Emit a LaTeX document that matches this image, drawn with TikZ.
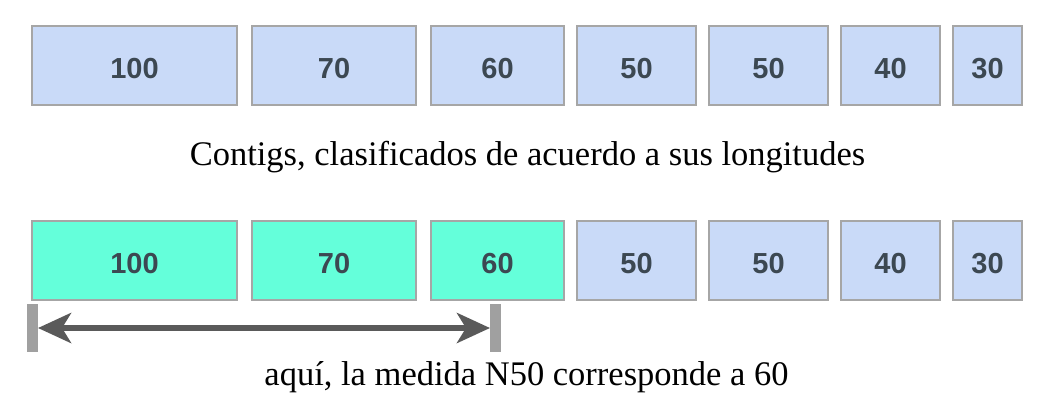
\documentclass[tikz,border=0pt]{standalone}
\usepackage{fontspec}
\setmainfont{Liberation Serif}
\newfontfamily\numfont{Liberation Sans}
\usetikzlibrary{arrows.meta}
\definecolor{boxblue}{HTML}{C9DAF8}
\definecolor{boxgreen}{HTML}{64FFDA}
\definecolor{boxline}{HTML}{A6A6A6}
\definecolor{numtext}{HTML}{3C4852}
\definecolor{arrowgray}{HTML}{5A5A5A}
\definecolor{bargray}{HTML}{A0A0A0}
\tikzset{
  contig/.style={draw=boxline, line width=1.5pt, inner sep=0pt, outer sep=0pt,
    font=\numfont\bfseries\fontsize{29}{34}\selectfont, text=numtext, text height=25pt, text depth=0pt},
  bluebox/.style={contig, fill=boxblue},
  greenbox/.style={contig, fill=boxgreen},
  caption/.style={inner sep=0pt, anchor=base, font=\fontsize{34.5}{40}\selectfont, text=black},
  endbar/.style={fill=bargray, draw=none, inner sep=0pt, outer sep=0pt, minimum width=11pt, minimum height=48pt},
  measure/.style={draw=arrowgray, line width=6pt, {Stealth[length=33pt,width=30pt,inset=9pt]}-{Stealth[length=33pt,width=30pt,inset=9pt]}}
}
\begin{document}
\begin{tikzpicture}[x=1pt,y=-1pt]
\useasboundingbox (0,0) rectangle (1064,413);
% top row
\node[bluebox, minimum width=205pt, minimum height=79pt] (t1) at (134.5,65.5) {100};
\node[bluebox, minimum width=164pt, minimum height=79pt] (t2) at (334,65.5) {70};
\node[bluebox, minimum width=133pt, minimum height=79pt] (t3) at (497.5,65.5) {60};
\node[bluebox, minimum width=119pt, minimum height=79pt] (t4) at (636.5,65.5) {50};
\node[bluebox, minimum width=119pt, minimum height=79pt] (t5) at (768.5,65.5) {50};
\node[bluebox, minimum width=99pt, minimum height=79pt] (t6) at (890.5,65.5) {40};
\node[bluebox, minimum width=69pt, minimum height=79pt] (t7) at (987.5,65.5) {30};
\node[caption] (cap1) at (527.5,165) {Contigs, clasificados de acuerdo a sus longitudes};
% bottom row
\node[greenbox, minimum width=205pt, minimum height=79pt] (b1) at (134.5,260.5) {100};
\node[greenbox, minimum width=164pt, minimum height=79pt] (b2) at (334,260.5) {70};
\node[greenbox, minimum width=133pt, minimum height=79pt] (b3) at (497.5,260.5) {60};
\node[bluebox, minimum width=119pt, minimum height=79pt] (b4) at (636.5,260.5) {50};
\node[bluebox, minimum width=119pt, minimum height=79pt] (b5) at (768.5,260.5) {50};
\node[bluebox, minimum width=99pt, minimum height=79pt] (b6) at (890.5,260.5) {40};
\node[bluebox, minimum width=69pt, minimum height=79pt] (b7) at (987.5,260.5) {30};
% measure
\node[endbar] (lbar) at (32.5,328) {};
\node[endbar] (rbar) at (495.5,328) {};
\draw[measure] (lbar.east) -- (rbar.west);
\node[caption] (cap2) at (526.5,385) {aquí, la medida N50 corresponde a 60};
\end{tikzpicture}
\end{document}
